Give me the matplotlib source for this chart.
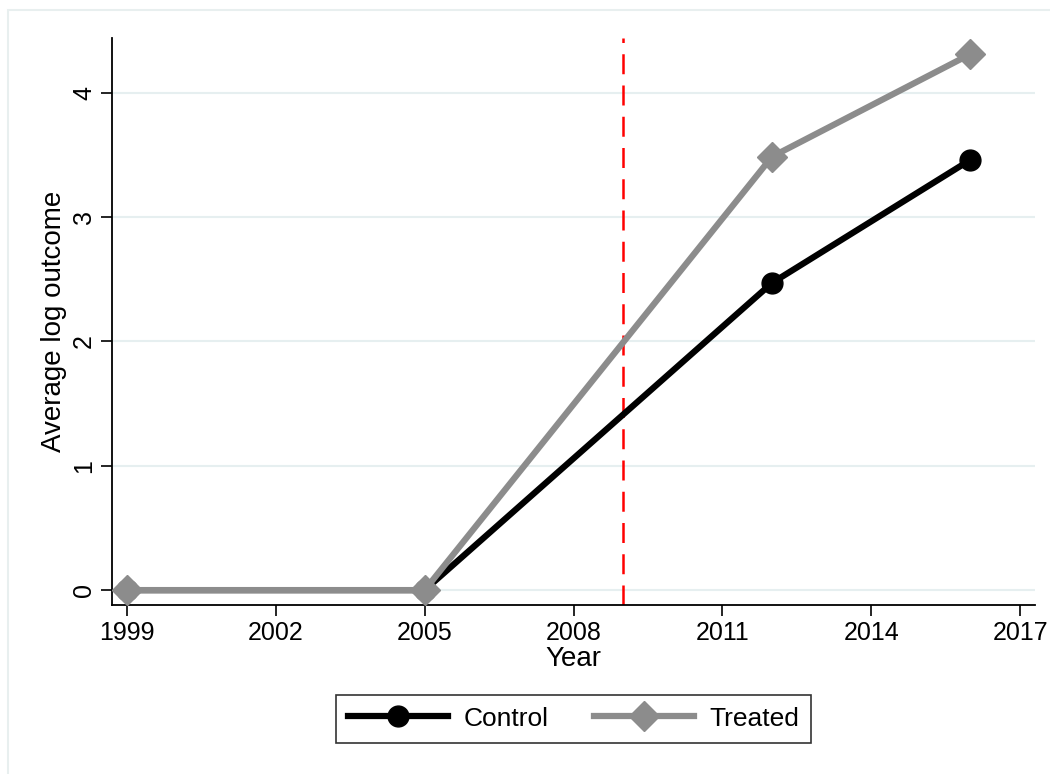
import matplotlib.pyplot as plt
from matplotlib.patches import Rectangle

# data
years = [1999, 2005, 2012, 2016]
control = [0.0, 0.0, 2.47, 3.46]
treated = [0.0, 0.0, 3.485, 4.31]
treat_year = 2009
xticks = [1999, 2002, 2005, 2008, 2011, 2014, 2017]
yticks = [0, 1, 2, 3, 4]

plt.rcParams['font.family'] = ['Liberation Sans', 'DejaVu Sans']

fig = plt.figure(figsize=(10.5, 7.74), dpi=100)
ax = fig.add_axes([0.1067, 0.2183, 0.879, 0.7327])

# faint outer frame of the graph region
fig.patches.append(Rectangle((8 / 1050, -0.05), 1.1, 1 - 10 / 774 + 0.05,
                             transform=fig.transFigure, fill=False,
                             edgecolor='#e8efef', linewidth=1.5))

for y in yticks:
    ax.axhline(y, color='#e6eff0', linewidth=1.5, zorder=0)

ax.plot(years, control, color='black', linewidth=4.5, marker='o',
        markersize=15, label='Control', zorder=3)
ax.plot(years, treated, color='#8c8c8c', linewidth=4.5, marker='D',
        markersize=15, label='Treated', zorder=4)
ax.axvline(treat_year, color='red', linewidth=1.8, linestyle=(0, (8, 4.5)),
           zorder=2)

ax.set_xlim(1998.70, 2017.3)
ax.set_ylim(-0.12, 4.44)
ax.set_xticks(xticks)
ax.set_yticks(yticks)
ax.tick_params(labelsize=18, length=8, width=1.2, color='black')
ax.tick_params(axis='y', labelrotation=90)
for lab in ax.get_yticklabels():
    lab.set_verticalalignment('center')

ax.spines['top'].set_visible(False)
ax.spines['right'].set_visible(False)
ax.spines['left'].set_linewidth(1.3)
ax.spines['bottom'].set_linewidth(1.3)

ax.set_xlabel('Year', fontsize=20, labelpad=1)
ax.set_ylabel('Average log outcome', fontsize=20, labelpad=4)

leg = ax.legend(loc='upper center', bbox_to_anchor=(0.5, -0.135), ncol=2,
                fontsize=19, frameon=True, fancybox=False, handlelength=3.8,
                columnspacing=1.7, handletextpad=0.6, borderpad=0.45,
                edgecolor='black')
leg.get_frame().set_linewidth(1.2)

fig.savefig('out.png', dpi=100, facecolor='white')
